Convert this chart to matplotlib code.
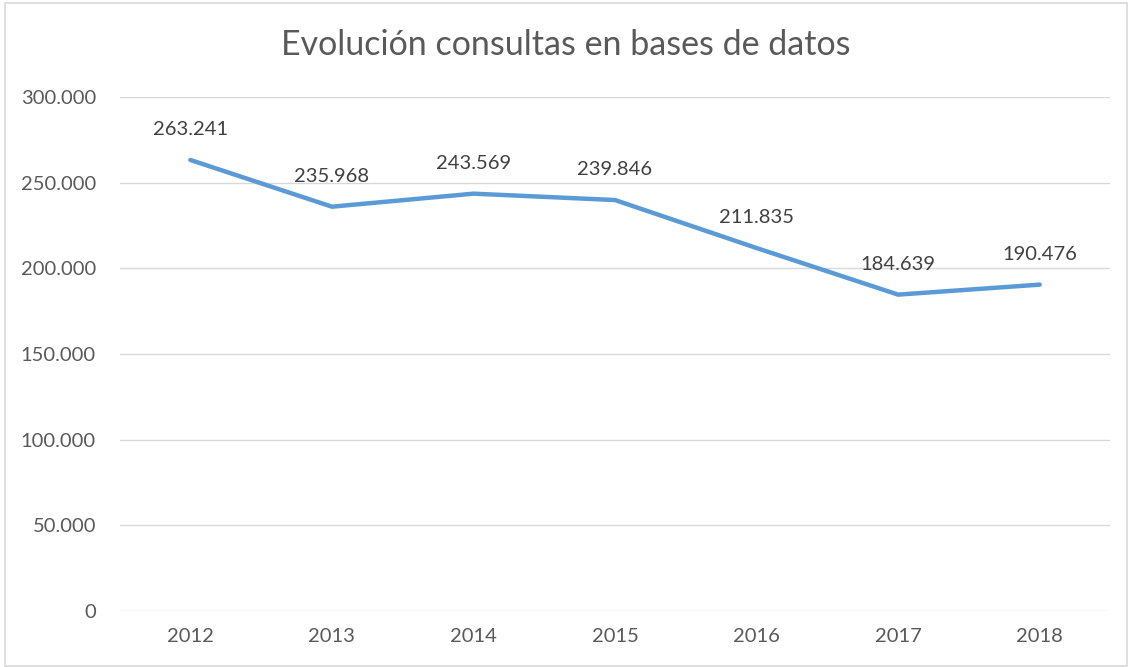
import matplotlib
matplotlib.use("Agg")
import matplotlib.pyplot as plt
from matplotlib.patches import Rectangle
from matplotlib.ticker import FuncFormatter

years = ["2012", "2013", "2014", "2015", "2016", "2017", "2018"]
consultas = [263241, 235968, 243569, 239846, 211835, 184639, 190476]
yticks = [0, 50000, 100000, 150000, 200000, 250000, 300000]

plt.rcParams['font.family'] = ['Lato', 'DejaVu Sans']
text_color = "#595959"

def fmt(v):
    return f"{int(v):,}".replace(",", ".")

fig = plt.figure(figsize=(11.32, 6.67), dpi=100)
ax = fig.add_axes([0.1056, 0.084, 0.8754, 0.7706])

x = list(range(len(years)))
ax.plot(x, consultas, color="#5B9BD5", linewidth=3.2, solid_capstyle="round", zorder=3)
for xi, v in zip(x, consultas):
    ax.annotate(fmt(v), (xi, v), xytext=(0, 22), textcoords="offset points",
                ha="center", va="center", fontsize=14.5, color="#404040")

ax.set_xlim(-0.5, len(years) - 0.5)
ax.set_ylim(0, 300000)
ax.set_yticks(yticks)
ax.yaxis.set_major_formatter(FuncFormatter(lambda v, p: fmt(v)))
ax.set_xticks(x)
ax.set_xticklabels(years)
ax.grid(axis="y", color="#D9D9D9", linewidth=1)
ax.set_axisbelow(True)
for s in ax.spines.values():
    s.set_visible(False)
ax.tick_params(axis="both", length=0, labelsize=14.5, labelcolor=text_color)
ax.tick_params(axis="y", pad=17)
ax.tick_params(axis="x", pad=12)
for lbl in ax.get_yticklabels():
    lbl.set_horizontalalignment("right")

fig.text(0.5, 0.933, "Evolución consultas en bases de datos", ha="center", va="center",
         fontsize=24.5, color=text_color, fontweight="normal")

fig.patches.append(Rectangle((0.004, 0.001), 0.992, 0.995, transform=fig.transFigure,
                             fill=False, edgecolor="#D9D9D9", linewidth=1.2))

fig.savefig("out.png", dpi=100)
